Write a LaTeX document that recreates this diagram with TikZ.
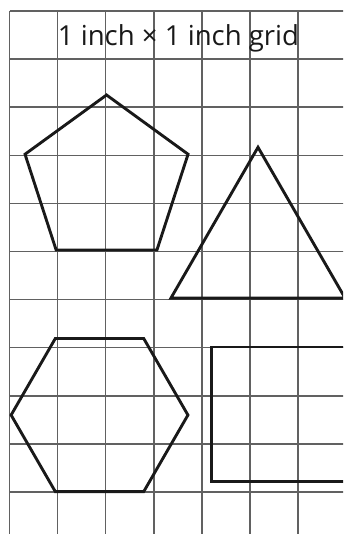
\documentclass[tikz,border=0pt]{standalone}
\usepackage{fontspec}
\setmainfont{Open Sans}
\usepackage{tikz}
\usetikzlibrary{shapes.geometric}

\tikzset{
	gridline/.style={draw=black!62, line width=0.9pt},
	figure/.style={draw=black!90, line width=1.7pt, line join=miter},
	polyshape/.style={figure, shape=regular polygon, inner sep=0pt, outer sep=0pt}
}

\begin{document}
\begin{tikzpicture}
	
	\useasboundingbox (-0.198,-10.873) rectangle (6.933,0.229);
	\clip (-0.198,-10.873) rectangle (6.933,0.229);
	\fill[white] (-0.198,-10.873) rectangle (6.933,0.229);
	
	\draw[gridline] (0,-11.5) grid (7.5,0);
	
	\node[font=\fontsize{16.3}{19}\selectfont, text=black!90, anchor=base, inner sep=0pt] (title) at (3.513,-0.72) {1 inch × 1 inch grid};
	
	\node[polyshape, regular polygon sides=5, minimum size=3.564cm] (pentagon) at (2.017,-3.528) {};
	\node[polyshape, regular polygon sides=3, minimum size=4.18cm] (triangle) at (5.166,-4.923) {};
	\node[polyshape, regular polygon sides=6, minimum size=3.676cm] (hexagon) at (1.871,-8.40) {};
	
	\coordinate (r1) at (7.3,-6.985);
	\coordinate (r2) at (4.19,-6.985);
	\coordinate (r3) at (4.19,-9.79);
	\coordinate (r4) at (7.3,-9.79);
	\draw[figure] (r1) -- (r2) -- (r3) -- (r4);
	
	\end{tikzpicture}
\end{document}
